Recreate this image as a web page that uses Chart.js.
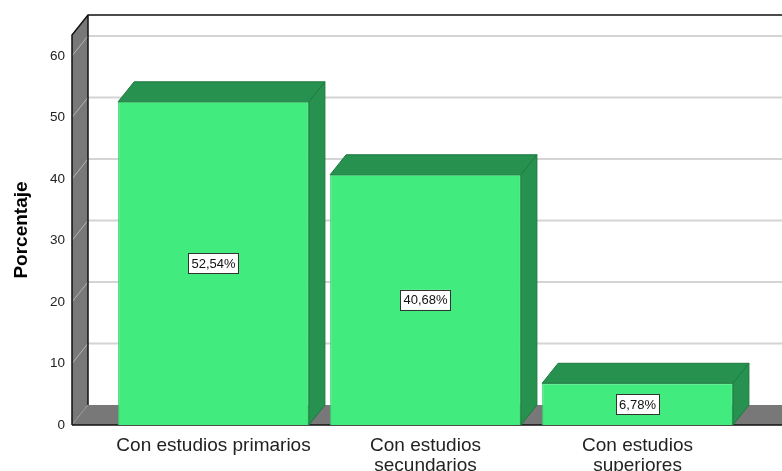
<!DOCTYPE html>
<html>
<head>
<meta charset="utf-8">
<script src="https://cdn.jsdelivr.net/npm/chart.js@4.4.1/dist/chart.umd.min.js"></script>
<style>
  html, body { margin: 0; padding: 0; background: #fff; }
</style>
</head>
<body>
<canvas id="chart" width="782" height="471"></canvas>
<script>
// Categories and values (percent)
const categories = [
  ['Con estudios primarios'],
  ['Con estudios', 'secundarios'],
  ['Con estudios', 'superiores'],
];
const percentages = [52.54, 40.68, 6.78];
const yTicks = [0, 10, 20, 30, 40, 50, 60];

// 3D depth offset
const DX = 16;
const DY = -20;

const FRONT = '#41eb7d';
const DARK  = '#27914f';
const EDGE  = '#1f7a40';
const WALL  = '#787878';
const GRID  = '#d4d4d4';
const FONT  = "'Liberation Sans', Arial, sans-serif";

const fmt = (v) => v.toFixed(2).replace('.', ',') + '%';

const threeD = {
  id: 'threeD',
  beforeDatasetsDraw(chart) {
    const { ctx, chartArea: a, scales: { y } } = chart;
    const W = chart.width;
    ctx.save();

    // back wall
    ctx.fillStyle = '#fff';
    ctx.fillRect(a.left + DX, a.top + DY, W - a.left - DX, a.bottom - a.top);

    // grid on back wall
    ctx.strokeStyle = GRID;
    ctx.lineWidth = 2;
    yTicks.forEach((v) => {
      if (v === 0) return;
      const py = y.getPixelForValue(v) + DY;
      ctx.beginPath();
      ctx.moveTo(a.left + DX, py);
      ctx.lineTo(W, py);
      ctx.stroke();
    });

    // left wall
    ctx.fillStyle = WALL;
    ctx.beginPath();
    ctx.moveTo(a.left, a.bottom);
    ctx.lineTo(a.left, a.top);
    ctx.lineTo(a.left + DX, a.top + DY);
    ctx.lineTo(a.left + DX, a.bottom + DY);
    ctx.closePath();
    ctx.fill();

    // diagonals on left wall
    ctx.strokeStyle = '#b4b4b4';
    ctx.lineWidth = 1;
    yTicks.forEach((v) => {
      const py = y.getPixelForValue(v);
      ctx.beginPath();
      ctx.moveTo(a.left, py);
      ctx.lineTo(a.left + DX, py + DY);
      ctx.stroke();
    });

    // floor
    ctx.fillStyle = WALL;
    ctx.beginPath();
    ctx.moveTo(a.left, a.bottom);
    ctx.lineTo(W + 20, a.bottom);
    ctx.lineTo(W + 20, a.bottom + DY);
    ctx.lineTo(a.left + DX, a.bottom + DY);
    ctx.closePath();
    ctx.fill();

    // outlines
    ctx.strokeStyle = '#111';
    ctx.lineWidth = 1.5;
    ctx.beginPath();
    ctx.moveTo(a.left, a.bottom);
    ctx.lineTo(a.left, a.top);
    ctx.lineTo(a.left + DX, a.top + DY);
    ctx.lineTo(W, a.top + DY);
    ctx.moveTo(a.left + DX, a.top + DY);
    ctx.lineTo(a.left + DX, a.bottom + DY);
    ctx.moveTo(a.left, a.bottom);
    ctx.lineTo(W, a.bottom);
    ctx.stroke();

    ctx.restore();
  },
  afterDatasetsDraw(chart) {
    const { ctx } = chart;
    const meta = chart.getDatasetMeta(0);
    ctx.save();
    ctx.fillStyle = DARK;
    ctx.strokeStyle = EDGE;
    ctx.lineWidth = 1;
    meta.data.forEach((bar) => {
      const { x, y, base, width } = bar.getProps(['x', 'y', 'base', 'width'], true);
      const l = x - width / 2, r = x + width / 2;
      // top face
      ctx.beginPath();
      ctx.moveTo(l, y);
      ctx.lineTo(r, y);
      ctx.lineTo(r + DX, y + DY);
      ctx.lineTo(l + DX, y + DY);
      ctx.closePath();
      ctx.fill();
      ctx.stroke();
      // side face
      ctx.beginPath();
      ctx.moveTo(r, y);
      ctx.lineTo(r + DX, y + DY);
      ctx.lineTo(r + DX, base + DY);
      ctx.lineTo(r, base);
      ctx.closePath();
      ctx.fill();
      ctx.stroke();
    });

    // value labels
    ctx.font = '13px ' + FONT;
    ctx.textAlign = 'center';
    ctx.textBaseline = 'middle';
    meta.data.forEach((bar, i) => {
      const { x, y, base } = bar.getProps(['x', 'y', 'base'], true);
      const cy = (y + base) / 2;
      const txt = fmt(percentages[i]);
      const w = ctx.measureText(txt).width + 6;
      const h = 20;
      ctx.fillStyle = '#fff';
      ctx.fillRect(x - w / 2, cy - h / 2, w, h);
      ctx.strokeStyle = '#333';
      ctx.lineWidth = 1;
      ctx.strokeRect(Math.round(x - w / 2) + 0.5, Math.round(cy - h / 2) + 0.5, Math.round(w), h);
      ctx.fillStyle = '#111';
      ctx.fillText(txt, x, cy + 1);
    });
    ctx.restore();
  },
};

new Chart(document.getElementById('chart'), {
  type: 'bar',
  data: {
    datasets: [{
      data: percentages.map((v, i) => ({ x: i, y: v })),
      backgroundColor: FRONT,
      borderColor: '#3ad371',
      borderWidth: 1,
      barPercentage: 1,
      categoryPercentage: 0.9,
    }],
  },
  options: {
    responsive: false,
    animation: false,
    layout: { padding: { top: 35, right: 16, left: 10, bottom: 0 } },
    plugins: { legend: { display: false }, tooltip: { enabled: false } },
    scales: {
      x: {
        type: 'linear',
        offset: false,
        min: -0.6675,
        max: 2.606,
        grid: { display: false, drawTicks: false, offset: false },
        border: { display: false },
        afterFit: (s) => { s.height = 46; },
        ticks: {
          stepSize: 1,
          includeBounds: false,
          maxRotation: 0,
          autoSkip: false,
          padding: 11,
          color: '#222',
          font: { family: FONT, size: 19, lineHeight: '20px' },
          callback: (v) => (Number.isInteger(v) && categories[v]) ? categories[v] : '',
        },
      },
      y: {
        min: 0,
        max: 63.4,
        grid: { display: false, drawTicks: false },
        border: { display: false },
        afterFit: (s) => { s.width = 62; },
        ticks: {
          stepSize: 10,
          includeBounds: false,
          padding: 7,
          color: '#222',
          font: { family: FONT, size: 13.5 },
        },
        title: {
          display: true,
          text: 'Porcentaje',
          color: '#000',
          padding: 0,
          font: { family: FONT, size: 19, weight: 'bold' },
        },
      },
    },
  },
  plugins: [threeD],
});
</script>
</body>
</html>
